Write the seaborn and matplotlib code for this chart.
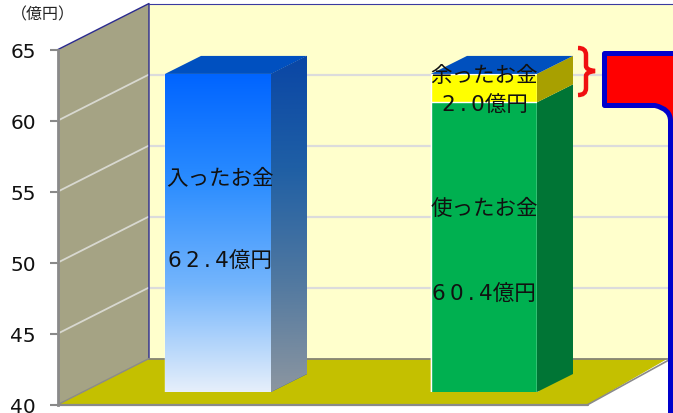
import numpy as np
import pandas as pd
import matplotlib.pyplot as plt
import seaborn as sns
from matplotlib.colors import LinearSegmentedColormap
from matplotlib.patches import Polygon, PathPatch
from matplotlib.path import Path

# data
income = [62.4]
used = [60.4]
left = [2.0]
y_ticks = [40, 45, 50, 55, 60, 65]
unit_label = "（億円）"
income_label = "入ったお金"
used_label = "使ったお金"
left_label = "余ったお金"
income_text = "6\u20092\u2009.\u20094億円"
used_text = "6\u20090\u2009.\u20094億円"
left_text = "2\u2009.\u20090億円"

# layout, in pixels of the 673x414 picture
W, H = 673, 414
px_per_unit = 14.2
y_floor_px = 405.5
wall_x0, wall_x1 = 58, 149
depth_y = 46
bar_lift = 12.5
bar_x = [218, 484]
bar_w = 106
side_dx, side_dy = 36, 18

sns.set_theme(style="white")
plt.rcParams['font.family'] = ['Noto Sans CJK JP', 'DejaVu Sans']

fig = plt.figure(figsize=(W / 100, H / 100), dpi=100, facecolor="white")

# front plane of the chart: y is in 億円, x in pixels
ax = fig.add_axes([0, 0, 1, 1], facecolor="none")
y_bottom = 40 - (H - y_floor_px) / px_per_unit
y_top = 40 + y_floor_px / px_per_unit
ax.set_xlim(0, W)
ax.set_ylim(y_bottom, y_top)
d_back = depth_y / px_per_unit
top = y_ticks[-1]
base = y_ticks[0]

ax.add_patch(Polygon([(wall_x1, base + d_back), (W, base + d_back), (W, top + d_back), (wall_x1, top + d_back)],
                     fc="#FFFFCC", ec="none", zorder=1))
ax.add_patch(Polygon([(wall_x0, base), (wall_x1, base + d_back), (wall_x1, top + d_back), (wall_x0, top)],
                     fc="#A5A384", ec="none", zorder=1))
ax.add_patch(Polygon([(wall_x0, base), (wall_x1, base + d_back), (668, base + d_back), (588, base)],
                     fc="#C4C000", ec="none", zorder=1))

for v in y_ticks[1:-1]:
    ax.plot([wall_x0, wall_x1], [v, v + d_back], color="#D8D8D0", lw=1.3, zorder=2)
    ax.plot([wall_x1, W], [v + d_back, v + d_back], color="#DCDCDC", lw=1.6, zorder=2)

ax.plot([wall_x0, wall_x1, wall_x1], [top, top + d_back, base + d_back], color="#2A2A90", lw=1, zorder=3)
ax.plot([wall_x1, W], [top + d_back, top + d_back], color="#3A3AA0", lw=0.8, zorder=3)
ax.plot([wall_x1, 668], [base + d_back, base + d_back], color="#808080", lw=1.2, zorder=3)
ax.plot([wall_x0, wall_x1], [base, base + d_back], color="#8A8A8A", lw=1, zorder=3)
ax.plot([588, 668], [base, base + 44 / px_per_unit], color="#8A8A8A", lw=1.2, zorder=3)
ax.plot([wall_x0, 588], [base, base], color="#8A8A8A", lw=1.6, zorder=3)

for name, spine in ax.spines.items():
    spine.set_visible(name == "left")
ax.spines["left"].set_position(("data", wall_x0))
ax.spines["left"].set_bounds(base, top)
ax.spines["left"].set_color("#8A8A8A")
ax.spines["left"].set_linewidth(2)
ax.spines["left"].set_zorder(4)
ax.set_xticks([])
ax.set_yticks(y_ticks)
ax.tick_params(axis="y", left=True, length=5.5, width=1.5, color="#8A8A8A", labelsize=14.5,
               labelcolor="#111111", pad=10.5, labelfontfamily="DejaVu Sans")
ax.text(43, y_top - 15 / px_per_unit, unit_label, fontsize=11.5, color="#222222", ha="center", va="center")

# bars stand on the floor, a little behind the front plane
ax_bar = fig.add_axes([0, (H - y_floor_px + bar_lift) / H, 1, (y_floor_px - bar_lift) / H], facecolor="none")
ax_bar.axis("off")
sns.barplot(x=bar_x[:1], y=income, native_scale=True, width=bar_w, color="#0066FF", saturation=1, ax=ax_bar)
stack = pd.DataFrame({"x": bar_x[1:], "total": np.add(used, left), "used": used})
sns.barplot(data=stack, x="x", y="total", native_scale=True, width=bar_w, color="#FFFF00", saturation=1, ax=ax_bar)
sns.barplot(data=stack, x="x", y="used", native_scale=True, width=bar_w, color="#00B050", saturation=1, ax=ax_bar)
blue_bar, yellow_bar, green_bar = ax_bar.patches[:3]
bar_ylim = (base, base + (y_floor_px - bar_lift) / px_per_unit)
d_side = side_dy / px_per_unit


def side_face(bar, low, color):
    x1 = bar.get_x() + bar.get_width()
    h = bar.get_height()
    return ax_bar.add_patch(Polygon([(x1, low), (x1 + side_dx, low + d_side), (x1 + side_dx, h + d_side), (x1, h)],
                                    fc=color, ec="none", zorder=3))


def top_face(bar, color):
    x0 = bar.get_x()
    x1 = x0 + bar.get_width()
    h = bar.get_height()
    ax_bar.add_patch(Polygon([(x0, h), (x0 + side_dx, h + d_side), (x1 + side_dx, h + d_side), (x1, h)],
                             fc=color, ec="none", zorder=3))


def gradient(patch, stops, extent):
    cmap = LinearSegmentedColormap.from_list("g", stops)
    im = ax_bar.imshow(np.linspace(0, 1, 256)[:, None], cmap=cmap, extent=extent, origin="upper",
                       aspect="auto", zorder=4)
    im.set_clip_path(patch)


b_x0 = blue_bar.get_x()
b_x1 = b_x0 + blue_bar.get_width()
b_h = blue_bar.get_height()
gradient(blue_bar, ["#0064FF", "#2A8CFF", "#74B5FC", "#E6EFFA"], [b_x0, b_x1, base, b_h])
blue_side = side_face(blue_bar, base, "#0A46A5")
gradient(blue_side, ["#0A46A5", "#1F5FA5", "#5078A0", "#8C96A0"], [b_x1, b_x1 + side_dx, base, b_h + d_side])
top_face(blue_bar, "#0050C0")

side_face(green_bar, base, "#007535")
side_face(yellow_bar, green_bar.get_height(), "#A8A000")
top_face(yellow_bar, "#0050BE")
ax_bar.set_xlim(0, W)
ax_bar.set_ylim(*bar_ylim)

# overlay in pixels: labels, brace and the callout frame
ov = fig.add_axes([0, 0, 1, 1], facecolor="none")
ov.set_xlim(0, W)
ov.set_ylim(H, 0)
ov.axis("off")

label_kw = dict(fontsize=15.5, color="#111111", ha="center", va="center")
num_kw = dict(label_kw, family=['DejaVu Sans', 'Noto Sans CJK JP'])
ov.text(220, 178, income_label, **label_kw)
ov.text(220, 261.5, income_text, **num_kw)
ov.text(484, 209, used_label, **label_kw)
ov.text(484, 294.5, used_text, **num_kw)
ov.text(484, 76, left_label, **label_kw)
ov.text(485, 105.5, left_text, **num_kw)

brace = Path([(578, 49), (583, 49), (586, 51), (586, 56), (586, 67), (586, 71), (595, 72),
              (586, 73), (586, 77), (586, 89), (586, 94), (583, 96), (578, 96)],
             [Path.MOVETO, Path.CURVE4, Path.CURVE4, Path.CURVE4, Path.LINETO, Path.CURVE3, Path.CURVE3,
              Path.CURVE3, Path.CURVE3, Path.LINETO, Path.CURVE4, Path.CURVE4, Path.CURVE4])
ov.add_patch(PathPatch(brace, fc="none", ec="#F01010", lw=3.2, capstyle="butt"))

frame = Path([(604.5, 54.5), (690, 54.5), (690, 420), (670.5, 420), (670.5, 122), (670.5, 110), (655, 106.5),
              (604.5, 106.5), (604.5, 54.5)],
             [Path.MOVETO, Path.LINETO, Path.LINETO, Path.LINETO, Path.LINETO, Path.CURVE3, Path.CURVE3,
              Path.LINETO, Path.CLOSEPOLY])
ov.add_patch(PathPatch(frame, fc="#FF0000", ec="#0000CC", lw=3.6, joinstyle="round"))

fig.savefig("out.png", dpi=100)
